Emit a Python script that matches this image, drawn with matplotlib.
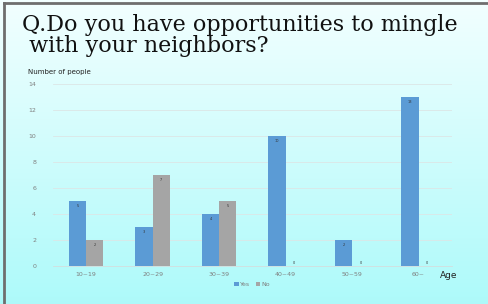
import numpy as np
import matplotlib
matplotlib.use("Agg")
import matplotlib.pyplot as plt
from matplotlib.lines import Line2D

ages = ["10~19", "20~29", "30~39", "40~49", "50~59", "60~"]
yes = [5, 3, 4, 10, 2, 13]
no = [2, 7, 5, 0, 0, 0]

fig = plt.figure(figsize=(4.89, 3.04), dpi=100)

# background gradient (light top -> cyan bottom)
bg = fig.add_axes([0, 0, 1, 1], zorder=-10)
top = np.array([0.95, 1.0, 1.0])
bot = np.array([0.68, 0.98, 0.98])
t = np.linspace(0, 1, 256)[:, None]
grad = (top * (1 - t) + bot * t)[:, None, :]
bg.imshow(grad, aspect="auto", extent=[0, 1, 0, 1])
bg.axis("off")

# frame lines on left and top
fig.add_artist(Line2D([0.009, 0.009], [0, 0.99], transform=fig.transFigure, color="#6e6e6e", lw=2))
fig.add_artist(Line2D([0.009, 1], [0.99, 0.99], transform=fig.transFigure, color="#6e6e6e", lw=2))

fig.text(0.045, 0.955, "Q.Do you have opportunities to mingle\n with your neighbors?",
         family="DejaVu Serif", fontsize=16, va="top", ha="left", color="#111111",
         linespacing=0.95)

ax = fig.add_axes([0.108, 0.125, 0.816, 0.599])
ax.set_facecolor("none")
x = np.arange(len(ages))
w = 0.26
b1 = ax.bar(x - w / 2, yes, w, color="#5b9bd5", label="Yes", zorder=3)
b2 = ax.bar(x + w / 2, no, w, color="#a5a5a5", label="No", zorder=3)

for xi, v in zip(x - w / 2, yes):
    ax.text(xi, v - 0.2, str(v), ha="center", va="top", fontsize=2.5, color="#333333", zorder=4)
for xi, v in zip(x + w / 2, no):
    yy = v - 0.2 if v > 0 else 0.35
    ax.text(xi, yy, str(v), ha="center", va="top", fontsize=2.5, color="#333333", zorder=4)

ax.set_xlim(-0.5, len(ages) - 0.5)
ax.set_ylim(0, 14)
ax.set_yticks(range(0, 15, 2))
ax.set_xticks(x)
ax.set_xticklabels(ages)
ax.tick_params(axis="both", length=0, labelsize=4.5, labelcolor="#7f7f7f")
ax.tick_params(axis="y", pad=12)
ax.tick_params(axis="x", pad=4)
ax.grid(axis="y", color="#dce6e6", lw=0.6, zorder=0)
for s in ["top", "right", "left"]:
    ax.spines[s].set_visible(False)
ax.spines["bottom"].set_color("#d4dede")
ax.spines["bottom"].set_linewidth(0.6)

fig.text(0.058, 0.752, "Number of people", fontsize=5, color="#222222", ha="left", va="bottom")
fig.text(0.9, 0.093, "Age", fontsize=6.5, color="#222222", ha="left", va="center")

ax.legend(loc="upper center", bbox_to_anchor=(0.5, -0.055), ncol=2, frameon=False,
          fontsize=4.5, labelcolor="#7f7f7f", handlelength=0.7, handleheight=0.7,
          handletextpad=0.3, columnspacing=0.8)

fig.savefig("out.png", dpi=100)
